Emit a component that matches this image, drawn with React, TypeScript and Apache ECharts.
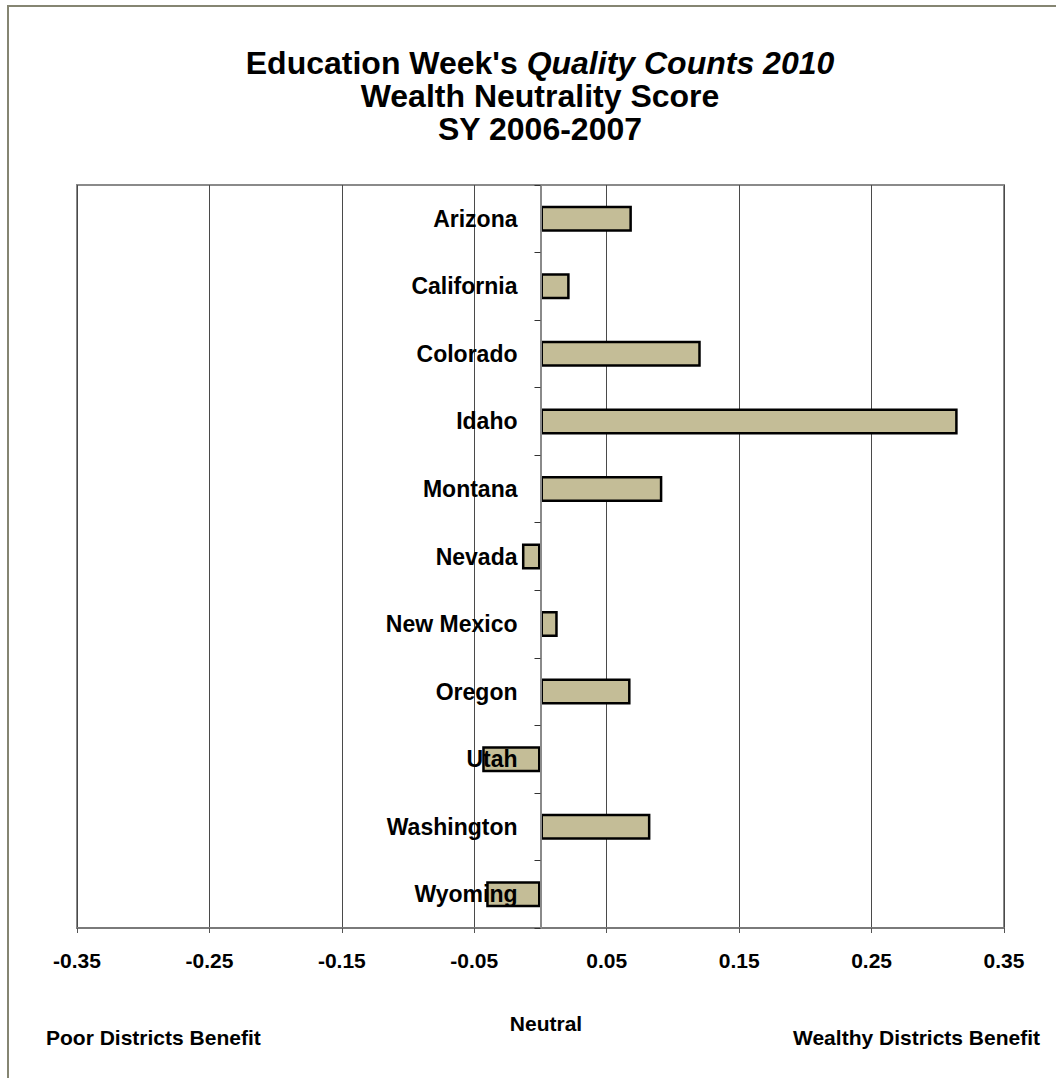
import React, { useEffect, useRef } from "react";
import * as echarts from "echarts";

const states = [
  "Arizona",
  "California",
  "Colorado",
  "Idaho",
  "Montana",
  "Nevada",
  "New Mexico",
  "Oregon",
  "Utah",
  "Washington",
  "Wyoming",
];
const scores = [0.069, 0.022, 0.121, 0.315, 0.092, -0.014, 0.013, 0.068, -0.044, 0.083, -0.041];
const titleLines = ["Wealth Neutrality Score", "SY 2006-2007"];
const bottomNotes = ["Poor Districts Benefit", "Neutral", "Wealthy Districts Benefit"];

const FONT = "Arial, 'Liberation Sans', Helvetica, sans-serif";
const GRID_LEFT = 77;
const GRID_RIGHT = 52;
const CHART_W = 1056;

export default function App() {
  const ref = useRef<HTMLDivElement>(null);
  useEffect(() => {
    document.body.style.margin = "0";
    document.body.style.overflow = "hidden";
    const chart = echarts.init(ref.current!, null, { renderer: "svg" });
    const plotW = CHART_W - GRID_LEFT - GRID_RIGHT;
    // zero sits in the middle of the symmetric -0.35..0.35 range
    const yAxisOffset = -plotW / 2;
    chart.setOption({
      animation: false,
      backgroundColor: "#ffffff",
      grid: {
        left: GRID_LEFT,
        right: GRID_RIGHT,
        top: 185,
        bottom: 150,
        containLabel: false,
        outerBoundsMode: "none",
        show: true,
        borderColor: "#8a8a8a",
        borderWidth: 2,
        backgroundColor: "transparent",
        z: 0,
      },
      xAxis: {
        type: "value",
        min: -0.35,
        max: 0.35,
        interval: 0.1,
        axisLine: { show: true, onZero: false, lineStyle: { color: "#7a7a7a", width: 2 } },
        axisTick: { show: true, length: 5, lineStyle: { color: "#555", width: 1 } },
        axisLabel: {
          margin: 22,
          color: "#000",
          fontFamily: FONT,
          fontWeight: "bold",
          fontSize: 21,
          formatter: (v: number) => v.toFixed(2),
        },
        splitLine: { show: true, lineStyle: { color: "#4a4a4a", width: 1 } },
      },
      yAxis: {
        type: "category",
        data: states,
        inverse: true,
        position: "left",
        offset: yAxisOffset,
        z: 5,
        axisLine: { show: true, onZero: false, lineStyle: { color: "#8a8a8a", width: 2 } },
        axisTick: { show: true, length: 6, inside: false, lineStyle: { color: "#333", width: 1 } },
        axisLabel: {
          margin: 23,
          color: "#000",
          fontFamily: FONT,
          fontWeight: "bold",
          fontSize: 23,
        },
        splitLine: { show: false },
      },
      series: [
        {
          type: "bar",
          data: scores,
          barWidth: 26,
          itemStyle: { color: "#C4BD97", borderColor: "#000", borderWidth: 2.5 },
        },
      ],
      graphic: [
        {
          type: "rect",
          shape: { x: 8, y: 6, width: 1200, height: 1200 },
          style: { fill: "none", stroke: "#858572", lineWidth: 2 },
          silent: true,
        },
        {
          type: "text",
          x: 540,
          y: 63,
          style: {
            text: "{n|Education Week's }{i|Quality Counts 2010}",
            align: "center",
            verticalAlign: "middle",
            rich: {
              n: { fontFamily: FONT, fontWeight: "bold", fontSize: 32, fill: "#000" },
              i: { fontFamily: FONT, fontWeight: "bold", fontStyle: "italic", fontSize: 32, fill: "#000" },
            },
          },
        },
        {
          type: "text",
          x: 540,
          y: 96,
          style: {
            text: titleLines[0],
            align: "center",
            verticalAlign: "middle",
            fontFamily: FONT,
            fontWeight: "bold",
            fontSize: 32,
            fill: "#000",
          },
        },
        {
          type: "text",
          x: 540,
          y: 129,
          style: {
            text: titleLines[1],
            align: "center",
            verticalAlign: "middle",
            fontFamily: FONT,
            fontWeight: "bold",
            fontSize: 32,
            fill: "#000",
          },
        },
        {
          type: "text",
          x: 46,
          y: 1037,
          style: {
            text: bottomNotes[0],
            align: "left",
            verticalAlign: "middle",
            fontFamily: FONT,
            fontWeight: "bold",
            fontSize: 21,
            fill: "#000",
          },
        },
        {
          type: "text",
          x: 546,
          y: 1023,
          style: {
            text: bottomNotes[1],
            align: "center",
            verticalAlign: "middle",
            fontFamily: FONT,
            fontWeight: "bold",
            fontSize: 21,
            fill: "#000",
          },
        },
        {
          type: "text",
          x: 793,
          y: 1037,
          style: {
            text: bottomNotes[2],
            align: "left",
            verticalAlign: "middle",
            fontFamily: FONT,
            fontWeight: "bold",
            fontSize: 21,
            fill: "#000",
          },
        },
      ],
    });
    return () => chart.dispose();
  }, []);
  return <div ref={ref} style={{ width: CHART_W, height: 1078 }} />;
}
